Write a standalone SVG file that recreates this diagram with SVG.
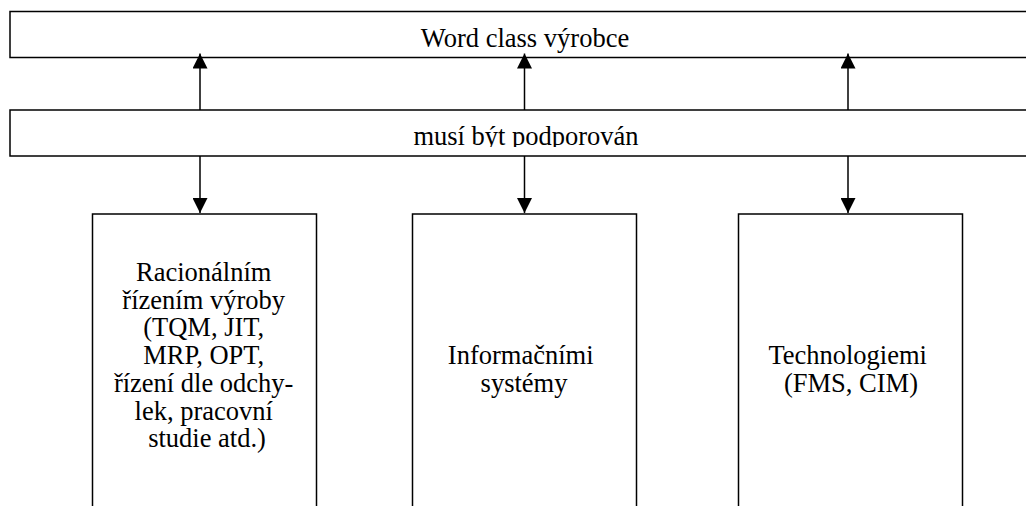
<svg xmlns="http://www.w3.org/2000/svg" width="1026" height="506" viewBox="0 0 1026 506">
  <style>
    .box { fill: #ffffff; stroke: #000000; stroke-width: 1.5; }
    .lbl { font-family: "Liberation Serif", "Times New Roman", "DejaVu Serif", serif; font-size: 26.5px; fill: #000000; text-anchor: middle; }
    .conn { stroke: #000000; stroke-width: 1.5; fill: none; marker-end: url(#head); }
  </style>
  <defs>
    <marker id="head" viewBox="0 0 15 15" refX="15" refY="7.5" markerWidth="15" markerHeight="15" markerUnits="userSpaceOnUse" orient="auto">
      <path d="M0,0 L15,7.5 L0,15 z" fill="#000000"/>
    </marker>
    <clipPath id="clipSupport">
      <rect x="10" y="110" width="1030" height="37"/>
    </clipPath>
  </defs>
  <rect width="1026" height="506" fill="#ffffff"/>

  <g id="world-class">
    <rect class="box" x="10" y="11.5" width="1030" height="46"/>
    <text class="lbl" x="525" y="46.5">Word class výrobce</text>
  </g>

  <g id="support">
    <rect class="box" x="10" y="110" width="1030" height="46"/>
    <text class="lbl" x="526" y="144.5" clip-path="url(#clipSupport)">musí být podporován</text>
  </g>

  <g id="rational">
    <rect class="box" x="92.5" y="214" width="224" height="310"/>
    <text class="lbl" x="207" y="281">
      <tspan x="207">Racionálním</tspan>
      <tspan x="207" dy="27.7">řízením výroby</tspan>
      <tspan x="207" dy="27.7">(TQM, JIT,</tspan>
      <tspan x="207" dy="27.7">MRP, OPT,</tspan>
      <tspan x="207" dy="27.7">řízení dle odchy-</tspan>
      <tspan x="207" dy="27.7">lek, pracovní</tspan>
      <tspan x="207" dy="27.7">studie atd.)</tspan>
    </text>
  </g>

  <g id="information">
    <rect class="box" x="412.5" y="214" width="224" height="310"/>
    <text class="lbl" x="524" y="364">
      <tspan x="524">Informačními</tspan>
      <tspan x="524" dy="27.7">systémy</tspan>
    </text>
  </g>

  <g id="technology">
    <rect class="box" x="738.5" y="214" width="224" height="310"/>
    <text class="lbl" x="851" y="364">
      <tspan x="851">Technologiemi</tspan>
      <tspan x="851" dy="27.7">(FMS, CIM)</tspan>
    </text>
  </g>

  <g id="connectors">
    <path class="conn" d="M200,110 L200,53.5"/>
    <path class="conn" d="M524.5,110 L524.5,53.5"/>
    <path class="conn" d="M848,110 L848,53.5"/>
    <path class="conn" d="M200,156 L200,213"/>
    <path class="conn" d="M524.5,156 L524.5,213"/>
    <path class="conn" d="M848,156 L848,213"/>
  </g>
</svg>
